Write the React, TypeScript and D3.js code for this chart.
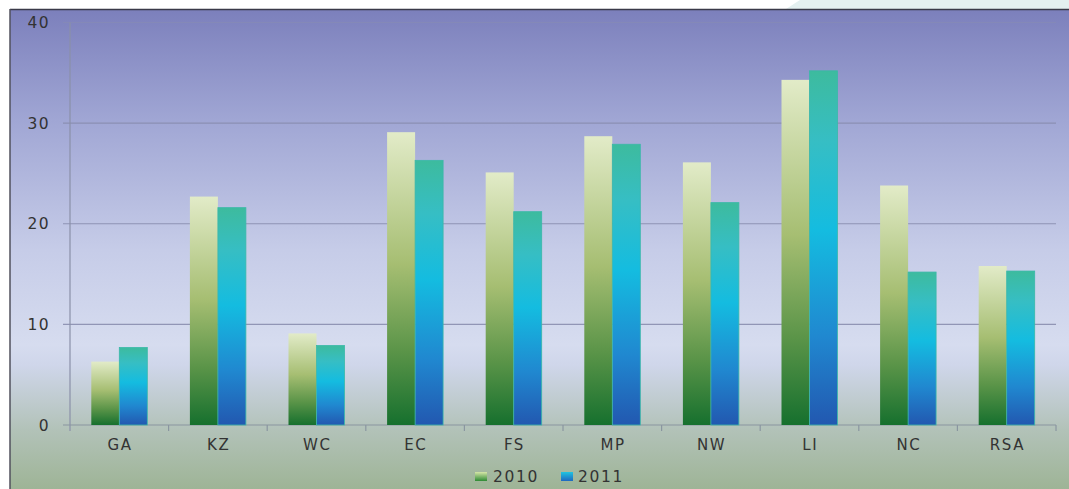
import React from "react";
import * as d3 from "d3";

const categories = ["GA", "KZ", "WC", "EC", "FS", "MP", "NW", "LI", "NC", "RSA"];
const series2010 = [6.3, 22.7, 9.1, 29.1, 25.1, 28.7, 26.1, 34.3, 23.8, 15.8];
const series2011 = [7.7, 21.6, 7.9, 26.3, 21.2, 27.9, 22.1, 35.2, 15.2, 15.3];
const seriesNames = ["2010", "2011"];
const yTicks = [0, 10, 20, 30, 40];

const W = 1069;
const H = 489;
const plot = { left: 70, right: 1056, top: 22.5, bottom: 425 };

const bgStops: [number, string][] = [
  [10, "#7c80bc"],
  [120, "#a0a6d4"],
  [250, "#c6cce8"],
  [345, "#d6dcef"],
  [365, "#cfd6ea"],
  [430, "#b2c2b8"],
  [489, "#9eb496"],
];

export default function App() {
  const x = d3
    .scaleBand<string>()
    .domain(categories)
    .range([plot.left, plot.right])
    .paddingInner(0)
    .paddingOuter(0);
  const y = d3.scaleLinear().domain([0, 40]).range([plot.bottom, plot.top]);
  const inner = d3
    .scaleBand<string>()
    .domain(seriesNames)
    .range([0, 56])
    .padding(0);
  const groupOffset = (x.bandwidth() - 56) / 2;
  const font = "'DejaVu Sans', Verdana, sans-serif";
  const data = [series2010, series2011];
  const fills = ["url(#g2010)", "url(#g2011)"];

  return (
    <svg
      width={W}
      height={H}
      style={{ position: "absolute", left: 0, top: 0 }}
      xmlns="http://www.w3.org/2000/svg"
    >
      <defs>
        <linearGradient id="bg" x1="0" y1="0" x2="0" y2="1">
          {bgStops.map(([o, c], i) => (
            <stop key={i} offset={(o - 9) / (H - 9)} stopColor={c} />
          ))}
        </linearGradient>
        <linearGradient id="g2010" x1="0" y1="0" x2="0" y2="1">
          <stop offset="0" stopColor="#e2ebc8" />
          <stop offset="0.45" stopColor="#a6be72" />
          <stop offset="0.75" stopColor="#5a9448" />
          <stop offset="1" stopColor="#16702e" />
        </linearGradient>
        <linearGradient id="g2011" x1="0" y1="0" x2="0" y2="1">
          <stop offset="0" stopColor="#3dbb9e" />
          <stop offset="0.2" stopColor="#36bec4" />
          <stop offset="0.45" stopColor="#14bce0" />
          <stop offset="0.75" stopColor="#2088d0" />
          <stop offset="1" stopColor="#2258b0" />
        </linearGradient>
        <linearGradient id="leg2010" x1="0" y1="0" x2="0" y2="1">
          <stop offset="0" stopColor="#d6e6a8" />
          <stop offset="1" stopColor="#2e8a34" />
        </linearGradient>
        <linearGradient id="leg2011" x1="0" y1="0" x2="0" y2="1">
          <stop offset="0" stopColor="#20c4e0" />
          <stop offset="1" stopColor="#2068c0" />
        </linearGradient>
      </defs>

      <rect x={0} y={0} width={W} height={H} fill="#ffffff" />
      <path d="M800,0 L1069,0 L1069,9 L786,9 Z" fill="#e4f0f0" />
      <rect x={10} y={9} width={W - 10} height={H - 9} fill="url(#bg)" />
      <line x1={10} y1={9.5} x2={W} y2={9.5} stroke="#3a3a48" strokeWidth={1.5} />
      <line x1={10} y1={9} x2={10} y2={H} stroke="#50505c" strokeWidth={1.5} />

      {/* gridlines */}
      {yTicks.filter((t) => t > 0).map((t) => (
        <line
          key={"g" + t}
          x1={plot.left - 7}
          x2={plot.right}
          y1={y(t)}
          y2={y(t)}
          stroke="#8a8eb0"
          strokeWidth={1.1}
          opacity={t === 40 ? 0.45 : 0.9}
        />
      ))}

      {/* axes */}
      <line x1={plot.left} x2={plot.left} y1={plot.top} y2={plot.bottom + 6} stroke="#8a90a8" strokeWidth={1.2} />
      <line x1={plot.left - 7} x2={plot.right} y1={plot.bottom} y2={plot.bottom} stroke="#8a96a0" strokeWidth={1.2} />
      {categories.map((c) => (
        <line
          key={"t" + c}
          x1={(x(c) as number) + x.bandwidth()}
          x2={(x(c) as number) + x.bandwidth()}
          y1={plot.bottom}
          y2={plot.bottom + 6}
          stroke="#8a96a0"
          strokeWidth={1.2}
        />
      ))}

      {/* bars */}
      {data.map((vals, si) =>
        vals.map((v, i) => {
          const bx = (x(categories[i]) as number) + groupOffset + (inner(seriesNames[si]) as number);
          return (
            <rect
              key={si + "-" + i}
              x={bx}
              y={y(v)}
              width={inner.bandwidth()}
              height={y(0) - y(v)}
              fill={fills[si]}
              stroke={si === 1 ? "#3ab8a8" : "none"}
              strokeWidth={si === 1 ? 0.8 : 0}
            />
          );
        })
      )}

      {/* y tick labels */}
      {yTicks.map((t) => (
        <text
          key={"yl" + t}
          x={50}
          y={y(t)}
          dy="0.36em"
          textAnchor="end"
          fontFamily={font}
          fontSize={15.5}
          letterSpacing={1.4}
          fill="#333"
        >
          {t}
        </text>
      ))}

      {/* x labels */}
      {categories.map((c) => (
        <text
          key={"xl" + c}
          x={(x(c) as number) + x.bandwidth() / 2 + 0.75}
          y={450}
          textAnchor="middle"
          fontFamily={font}
          fontSize={15}
          letterSpacing={1.6}
          fill="#333"
        >
          {c}
        </text>
      ))}

      {/* legend */}
      <rect x={475} y={472} width={12} height={9} fill="url(#leg2010)" />
      <text x={493} y={482} fontFamily={font} fontSize={15.5} letterSpacing={1.6} fill="#333">
        {seriesNames[0]}
      </text>
      <rect x={561} y={472} width={12} height={9} fill="url(#leg2011)" />
      <text x={578} y={482} fontFamily={font} fontSize={15.5} letterSpacing={1.6} fill="#333">
        {seriesNames[1]}
      </text>
    </svg>
  );
}
